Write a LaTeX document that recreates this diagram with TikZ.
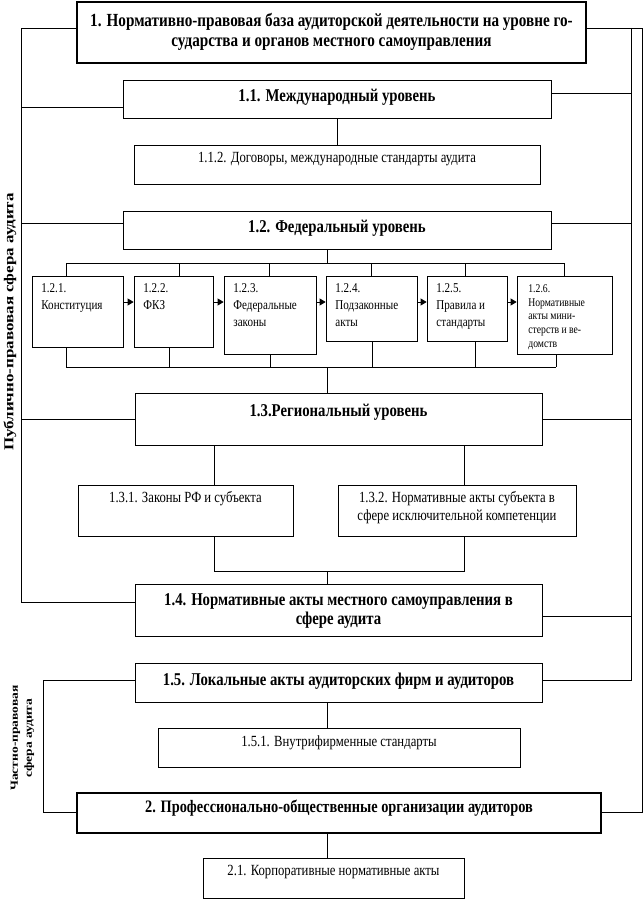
\documentclass[tikz,border=0pt]{standalone}
\usepackage{fontspec}
\setmainfont{Liberation Serif}[FakeStretch=0.82]
\newfontfamily\rotfont{Liberation Serif}
\usetikzlibrary{arrows.meta}
\begin{document}
\begin{tikzpicture}[x=1pt,y=-1pt, line width=0.8pt,
 box/.style={draw, inner sep=0pt, line width=0.8pt},
 boxT/.style={draw, inner sep=0pt, line width=2.6pt},
 hd/.style={font=\fontsize{18}{18.5}\selectfont\bfseries, align=center, inner sep=0pt},
 tx/.style={font=\fontsize{15.5}{18}\selectfont, align=center, inner sep=0pt},
 sm/.style={font=\fontsize{13.5}{17}\selectfont, align=left, inner sep=0pt, anchor=north west},
 tiny/.style={font=\fontsize{11.8}{13.8}\selectfont, align=left, inner sep=0pt, anchor=north west},
 arr/.style={-{Triangle[length=6pt,width=7pt]}}]
\useasboundingbox (0,0) rectangle (643,899);
% boxes
\node[boxT, minimum width=509pt, minimum height=61pt] (n1) at (331.5,32.5) {};
\node[box, minimum width=428pt, minimum height=38pt] (n11) at (337,99) {};
\node[box, minimum width=406pt, minimum height=39pt] (n112) at (337,164.5) {};
\node[box, minimum width=428pt, minimum height=38pt] (n12) at (337,230) {};
\node[box, minimum width=91pt, minimum height=71pt] (n121) at (77.5,311.5) {};
\node[box, minimum width=79pt, minimum height=71pt] (n122) at (173.5,311.5) {};
\node[box, minimum width=92pt, minimum height=78pt] (n123) at (270,315) {};
\node[box, minimum width=91pt, minimum height=65pt] (n124) at (371.5,308.5) {};
\node[box, minimum width=80pt, minimum height=65pt] (n125) at (467,308.5) {};
\node[box, minimum width=95pt, minimum height=78pt] (n126) at (564.5,315) {};
\node[box, minimum width=407pt, minimum height=52pt] (n13) at (338.5,419) {};
\node[box, minimum width=215pt, minimum height=51pt] (n131) at (185.5,510.5) {};
\node[box, minimum width=238pt, minimum height=51pt] (n132) at (457,510.5) {};
\node[box, minimum width=407pt, minimum height=52pt] (n14) at (338.5,610) {};
\node[box, minimum width=407pt, minimum height=39pt] (n15) at (338.5,682.5) {};
\node[box, minimum width=362pt, minimum height=39pt] (n151) at (339,747.5) {};
\node[boxT, minimum width=524pt, minimum height=40pt] (n2) at (339,813) {};
\node[box, minimum width=261pt, minimum height=40pt] (n21) at (333.5,878) {};
% texts
\node[hd, font=\fontsize{18.5}{20}\selectfont\bfseries] (t1) at (331.5,32) {1. Нормативно-правовая база аудиторской деятельности на уровне го-\\сударства и органов местного самоуправления};
\node[hd] (t11) at (337,97) {1.1. Международный уровень};
\node[tx] (t112) at (337,159) {1.1.2. Договоры, международные стандарты аудита};
\node[hd] (t12) at (337,228) {1.2. Федеральный уровень};
\node[sm] (t121) at (41,283) {1.2.1.\\Конституция};
\node[sm] (t122) at (143,283) {1.2.2.\\ФКЗ};
\node[sm] (t123) at (233,283) {1.2.3.\\Федеральные\\законы};
\node[sm] (t124) at (335,283) {1.2.4.\\Подзаконные\\акты};
\node[sm] (t125) at (436,283) {1.2.5.\\Правила и\\стандарты};
\node[tiny] (t126) at (528,284) {1.2.6.\\Нормативные\\акты мини-\\стерств и ве-\\домств};
\node[hd] (t13) at (338.5,412) {1.3.Региональный уровень};
\node[tx] (t131) at (185.5,499) {1.3.1. Законы РФ и субъекта};
\node[tx] (t132) at (457,508) {1.3.2. Нормативные акты субъекта в\\сфере исключительной компетенции};
\node[hd] (t14) at (338.5,611) {1.4. Нормативные акты местного самоуправления в\\сфере аудита};
\node[hd] (t15) at (338.5,681) {1.5. Локальные акты аудиторских фирм и аудиторов};
\node[tx] (t151) at (339,743) {1.5.1. Внутрифирменные стандарты};
\node[hd, font=\fontsize{17.5}{18}\selectfont\bfseries] (t2) at (339,808) {2. Профессионально-общественные организации аудиторов};
\node[tx] (t21) at (333.5,872) {2.1. Корпоративные нормативные акты};
% side labels
\node[rotate=90, inner sep=0pt, font=\rotfont\fontsize{17}{20}\selectfont\bfseries] (pub) at (10,322) {\scalebox{1}[0.8]{Публично-правовая сфера аудита}};
\node[rotate=90, inner sep=0pt, font=\rotfont\fontsize{13.5}{17.5}\selectfont\bfseries] (priv) at (22,738) {\scalebox{1}[0.8]{\begin{tabular}{@{}c@{}}Частно-правовая\\сфера аудита\end{tabular}}};
% coordinates
\coordinate (L0) at (21,28); \coordinate (L1) at (21,107); \coordinate (L2) at (21,223);
\coordinate (L3) at (21,419); \coordinate (L4) at (21,602);
\coordinate (R0) at (642,28); \coordinate (R6) at (642,812);
\coordinate (Q0) at (631,28); \coordinate (Q1) at (631,93); \coordinate (Q2) at (631,223);
\coordinate (Q3) at (631,419); \coordinate (Q4) at (631,616); \coordinate (Q5) at (631,680);
\coordinate (P1) at (43,680); \coordinate (P2) at (43,812);
\coordinate (c) at (327,0);
\coordinate (bt) at (327,263); \coordinate (bb) at (327,367);
\coordinate (btl) at (66,263); \coordinate (btr) at (564,263);
\coordinate (bbl) at (66,367); \coordinate (bbr) at (556,367);
\coordinate (x214) at (214,0); \coordinate (x464) at (464,0);
\coordinate (m1) at (214,571); \coordinate (m2) at (464,571); \coordinate (m0) at (327,571);
\coordinate (ay) at (0,302);
% left main line
\draw (n1.west |- L0) -- (L0) -- (L4) -- (n14.west |- L4);
\draw (L1) -- (n11.west |- L1);
\draw (L2) -- (n12.west |- L2);
\draw (L3) -- (n13.west |- L3);
% right lines
\draw (n1.east |- R0) -- (R0) -- (R6) -- (n2.east |- R6);
\draw (Q0) -- (Q5) -- (n15.east |- Q5);
\draw (Q1) -- (n11.east |- Q1);
\draw (Q2) -- (n12.east |- Q2);
\draw (Q3) -- (n13.east |- Q3);
\draw (Q4) -- (n14.east |- Q4);
% private bracket
\draw (n15.west |- P1) -- (P1) -- (P2) -- (n2.west |- P2);
% verticals
\draw (n11.south) -- (n112.north);
\draw (n12.south -| c) -- (bt);
\draw (btl) -- (btr);
\foreach \n/\x in {n121/66, n122/179, n123/269, n124/371, n125/465, n126/564}
  {\coordinate (tmp) at (\x,263); \draw (tmp) -- (\n.north -| tmp);}
\draw (bbl) -- (bbr);
\foreach \n/\x in {n121/66, n122/169, n123/270, n124/372, n125/475, n126/556}
  {\coordinate (tmp) at (\x,367); \draw (\n.south -| tmp) -- (tmp);}
\draw (bb) -- (n13.north -| c);
\draw (n13.south -| x214) -- (n131.north -| x214);
\draw (n13.south -| x464) -- (n132.north -| x464);
\draw (n131.south -| x214) -- (m1) -- (m2) -- (n132.south -| x464);
\draw (m0) -- (n14.north -| c);
\draw (n15.south -| c) -- (n151.north -| c);
\draw (n2.south -| c) -- (n21.north -| c);
% arrows
\draw[arr] (n121.east |- ay) -- (n122.west |- ay);
\draw[arr] (n122.east |- ay) -- (n123.west |- ay);
\draw[arr] (n123.east |- ay) -- (n124.west |- ay);
\draw[arr] (n124.east |- ay) -- (n125.west |- ay);
\draw[arr] (n125.east |- ay) -- (n126.west |- ay);
\end{tikzpicture}
\end{document}
